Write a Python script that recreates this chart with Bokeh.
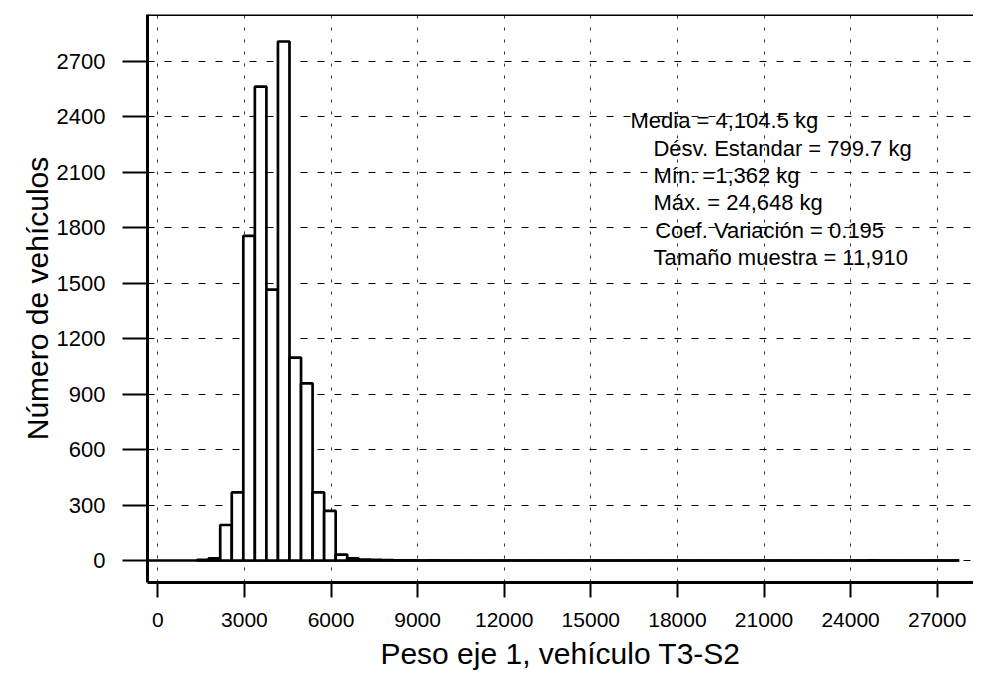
from bokeh.plotting import figure
from bokeh.models import Range1d, FixedTicker, Span, ColumnDataSource, Label
from bokeh.embed import file_html
from bokeh.resources import INLINE

# ---- data ----
BIN_START = 1362      # kg (minimum)
BIN_WIDTH = 400       # kg
counts = [3, 12, 192, 368, 1755, 2562, 1464, 2806, 1097, 958, 368, 268, 32, 11,
          5, 3, 2, 1, 1, 0, 1,
          0, 0, 0, 0, 0, 0, 0, 0, 0, 0, 0, 0, 0, 0, 0, 0, 0, 0, 0, 0, 0, 0, 0,
          0, 0, 0, 0, 0, 0, 0, 0, 0, 0, 0, 0, 0, 0,
          1,
          0, 0, 0, 0, 0, 0, 0]
x_ticks = [0, 3000, 6000, 9000, 12000, 15000, 18000, 21000, 24000, 27000]
y_ticks = [0, 300, 600, 900, 1200, 1500, 1800, 2100, 2400, 2700]
stats_lines = ["Media = 4,104.5 kg",
               "Désv. Estandar = 799.7 kg",
               "Mín. =1,362 kg",
               "Máx. = 24,648 kg",
               "Coef. Variación = 0.195",
               "Tamaño muestra = 11,910"]
x_title = "Peso eje 1, vehículo T3-S2"
y_title = "Número de vehículos"

lefts = [BIN_START + i * BIN_WIDTH for i in range(len(counts))]
rights = [l + BIN_WIDTH for l in lefts]
src = ColumnDataSource(dict(left=lefts, right=rights, top=counts, bottom=[0] * len(counts)))

FONT = "Liberation Sans"
X0, X1 = -357, 28257
Y0, Y1 = -119, 2952

p = figure(width=973, height=676, output_backend="svg", toolbar_location=None,
           x_range=Range1d(X0, X1), y_range=Range1d(Y0, Y1),
           min_border_left=147, min_border_right=0, min_border_top=14, min_border_bottom=94)
p.outline_line_color = None
p.background_fill_color = "white"

# grid
p.xgrid.ticker = FixedTicker(ticks=x_ticks)
p.ygrid.ticker = FixedTicker(ticks=y_ticks)
p.xgrid.grid_line_color = "black"
p.xgrid.grid_line_dash = "3 9"
p.xgrid.grid_line_width = 1
p.xgrid.grid_line_alpha = 0.8
p.ygrid.grid_line_color = "black"
p.ygrid.grid_line_dash = "7 10"
p.ygrid.grid_line_width = 1.2

# baseline and bars
p.segment(x0=[X0], y0=[0], x1=[rights[-1]], y1=[0], line_color="black", line_width=2.5)
p.quad(left="left", right="right", top="top", bottom="bottom", source=src,
       fill_color="white", line_color="black", line_width=2.7)

# top border
p.add_layout(Span(location=Y1, dimension="width", line_color="black", line_width=3))

# axes
for ax in (p.xaxis[0], p.yaxis[0]):
    ax.axis_line_color = "black"
    ax.axis_line_width = 3
    ax.major_tick_line_color = "black"
    ax.major_tick_line_width = 2
    ax.major_tick_in = 0
    ax.minor_tick_line_color = None
    ax.major_label_text_font = FONT
    ax.major_label_text_color = "black"
    ax.axis_label_text_font = FONT
    ax.axis_label_text_font_size = "30px"
    ax.axis_label_text_font_style = "normal"
    ax.axis_label_text_color = "black"

p.xaxis.ticker = FixedTicker(ticks=x_ticks)
p.yaxis.ticker = FixedTicker(ticks=y_ticks)
p.xaxis.major_label_text_font_size = "21px"
p.yaxis.major_label_text_font_size = "22px"
p.xaxis.major_tick_out = 15
p.xaxis.major_label_standoff = 15
p.xaxis.axis_label = x_title
p.xaxis.axis_label_standoff = 7
p.yaxis.major_tick_out = 25
p.yaxis.major_label_standoff = 17
p.yaxis.axis_label = y_title
p.yaxis.axis_label_standoff = 0

# statistics text
text_x = [16375, 17170, 17170, 17170, 17230, 17170]
text_y = [2379, 2230, 2082, 1933, 1785, 1636]
for s, tx, ty in zip(stats_lines, text_x, text_y):
    p.add_layout(Label(x=tx, y=ty, text=s, text_font=FONT, text_font_size="22px",
                       text_color="black", text_baseline="alphabetic", text_align="left"))

open("out.html", "w").write(file_html(p, INLINE))
